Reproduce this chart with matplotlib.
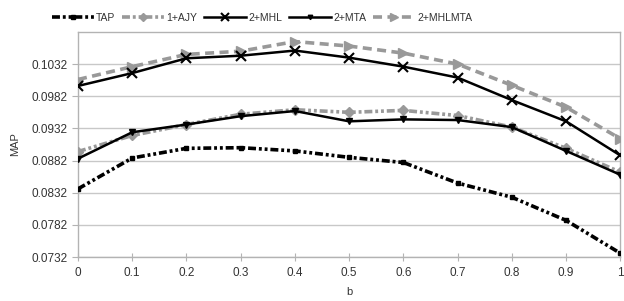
import matplotlib
matplotlib.use("Agg")
import matplotlib.pyplot as plt

plt.rcParams['font.family'] = ['Liberation Sans', 'DejaVu Sans']

b = [0, 0.1, 0.2, 0.3, 0.4, 0.5, 0.6, 0.7, 0.8, 0.9, 1]
tap = [0.0838, 0.0886, 0.0901, 0.0902, 0.0897, 0.0887, 0.0879, 0.0847, 0.0825, 0.0789, 0.0738]
ajy = [0.0896, 0.0921, 0.0938, 0.0954, 0.0961, 0.0957, 0.0960, 0.0952, 0.0934, 0.0901, 0.0864]
mhl = [0.0998, 0.1018, 0.1041, 0.1045, 0.1053, 0.1042, 0.1028, 0.1011, 0.0976, 0.0943, 0.0890]
mta = [0.0885, 0.0926, 0.0938, 0.0951, 0.0959, 0.0943, 0.0946, 0.0945, 0.0934, 0.0897, 0.0860]
mhlmta = [0.1008, 0.1028, 0.1047, 0.1052, 0.1067, 0.1060, 0.1049, 0.1032, 0.0999, 0.0965, 0.0916]
yticks = [0.0732, 0.0782, 0.0832, 0.0882, 0.0932, 0.0982, 0.1032]

gray = '#999999'
fig = plt.figure(figsize=(6.24, 3.01), dpi=100)
ax = fig.add_axes([0.125, 0.146, 0.869, 0.748])

ax.plot(b, tap, color='black', lw=2.6, ls=(0, (2.2, 0.8, 0.8, 0.8, 0.8, 0.8)),
        marker='s', ms=3.5, label='TAP', zorder=3)
ax.plot(b, ajy, color=gray, lw=2.6, ls=(0, (2.2, 0.8, 0.8, 0.8, 0.8, 0.8)),
        marker='D', ms=5, label='1+AJY', zorder=3)
ax.plot(b, mhl, color='black', lw=1.8, ls='-', marker='x', ms=7, mew=1.5,
        label='2+MHL', zorder=4)
ax.plot(b, mta, color='black', lw=1.8, ls='-', marker='v', ms=4,
        label='2+MTA', zorder=4)
ax.plot(b, mhlmta, color=gray, lw=2.6, ls=(0, (2.5, 1.5)), marker='>', ms=7,
        label='2+MHLMTA', zorder=3)

ax.set_xlim(0, 1)
ax.set_ylim(0.0732, 0.1082)
ax.set_xticks(b)
ax.set_xticklabels(['0', '0.1', '0.2', '0.3', '0.4', '0.5', '0.6', '0.7', '0.8', '0.9', '1'])
ax.set_yticks(yticks)
ax.set_yticklabels(['%.4f' % v for v in yticks])
ax.grid(axis='y', color='#c8c8c8', lw=1)
ax.set_axisbelow(True)
for s in ax.spines.values():
    s.set_color('#b3b3b3')
    s.set_linewidth(1)
ax.tick_params(axis='both', colors='#b3b3b3', labelcolor='#333333', labelsize=8.5, length=4)
ax.tick_params(axis='x', direction='inout', length=6, pad=4)
ax.set_xlabel('b', fontsize=8, color='#333333', labelpad=6)
ax.set_ylabel('MAP', fontsize=8, color='#333333', labelpad=8)

leg = fig.legend(loc='upper center', bbox_to_anchor=(0.42, 0.985), ncol=5, frameon=False,
                 fontsize=7.5, handlelength=4.0, columnspacing=0.7, handletextpad=0.2,
                 labelcolor='#333333', borderpad=0.3, markerscale=0.8)
fig.savefig('out.png', dpi=100)
